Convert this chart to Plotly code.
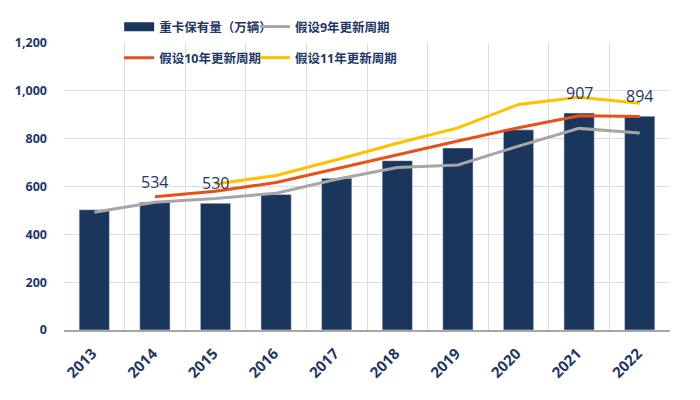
import plotly.graph_objects as go

# values (万辆)
years = ["2013", "2014", "2015", "2016", "2017", "2018", "2019", "2020", "2021", "2022"]
stock = [503, 534, 530, 567, 634, 708, 761, 837, 907, 894]
cycle_9 = [492, 534, 550, 572, 630, 679, 690, 769, 843, 824]
cycle_10 = [None, 557, 580, 617, 675, 734, 790, 846, 896, 893]
cycle_11 = [None, None, 610, 646, 712, 781, 845, 943, 973, 948]
labelled_years = ["2014", "2015", "2021", "2022"]

NAVY = "#1B365D"
TEXT = "#1F3864"
FONT = "Open Sans, Noto Sans CJK SC, sans-serif"

fig = go.Figure()
fig.add_trace(go.Bar(x=years, y=stock, name="重卡保有量（万辆）",
                     marker=dict(color=NAVY), width=0.5, showlegend=False))
# legend key only: a wide navy block like the original
fig.add_trace(go.Scatter(x=[None], y=[None], name="重卡保有量（万辆）", mode="lines",
                         line=dict(color=NAVY, width=9), legend="legend"))
fig.add_trace(go.Scatter(x=years, y=cycle_9, name="假设9年更新周期", mode="lines",
                         line=dict(color="#A6A6A6", width=3), legend="legend2"))
fig.add_trace(go.Scatter(x=years, y=cycle_10, name="假设10年更新周期", mode="lines",
                         line=dict(color="#E8501A", width=3), legend="legend3"))
fig.add_trace(go.Scatter(x=years, y=cycle_11, name="假设11年更新周期", mode="lines",
                         line=dict(color="#FFC000", width=3), legend="legend4"))

for yr in labelled_years:
    i = years.index(yr)
    fig.add_annotation(x=i, y=stock[i], text=str(stock[i]), showarrow=False,
                       yanchor="middle", yshift=20,
                       font=dict(family=FONT, size=16, color=TEXT, weight=500))

legend_style = dict(orientation="h", xref="paper", yref="container",
                    xanchor="left", yanchor="middle", bgcolor="rgba(0,0,0,0)",
                    itemwidth=30,
                    font=dict(family=FONT, size=12.5, color=TEXT, weight="bold"))
col_x = [0.091, 0.315]
row_y = [0.9525, 0.875]

fig.update_layout(
    width=700, height=400,
    # page body adds 8px offset, so margins are shifted by that amount
    margin=dict(l=56, r=38, t=35, b=78, autoexpand=False),
    paper_bgcolor="white", plot_bgcolor="white",
    barmode="overlay",
    legend=dict(legend_style, x=col_x[0], y=row_y[0]),
    legend2=dict(legend_style, x=col_x[1], y=row_y[0]),
    legend3=dict(legend_style, x=col_x[0], y=row_y[1]),
    legend4=dict(legend_style, x=col_x[1], y=row_y[1]),
    xaxis=dict(type="category", categoryorder="array", categoryarray=years,
               range=[-0.5, len(years) - 0.5], automargin=False,
               tickson="boundaries", showgrid=True,
               gridcolor="#DDDDDD", gridwidth=1, ticks="", tickangle=-45,
               showline=True, linecolor="#A6A6A6", linewidth=2,
               ticklabelshift=-2, ticklabelstandoff=7,
               tickfont=dict(family=FONT, size=15, color=TEXT, weight="bold")),
    yaxis=dict(range=[0, 1200], dtick=200, tickformat=",d", showgrid=True,
               gridcolor="#DDDDDD", gridwidth=1, zeroline=False, ticks="",
               ticklabelstandoff=16, automargin=False,
               tickfont=dict(family=FONT, size=12.5, color=TEXT, weight="bold")),
)

fig.write_html("out.html")
